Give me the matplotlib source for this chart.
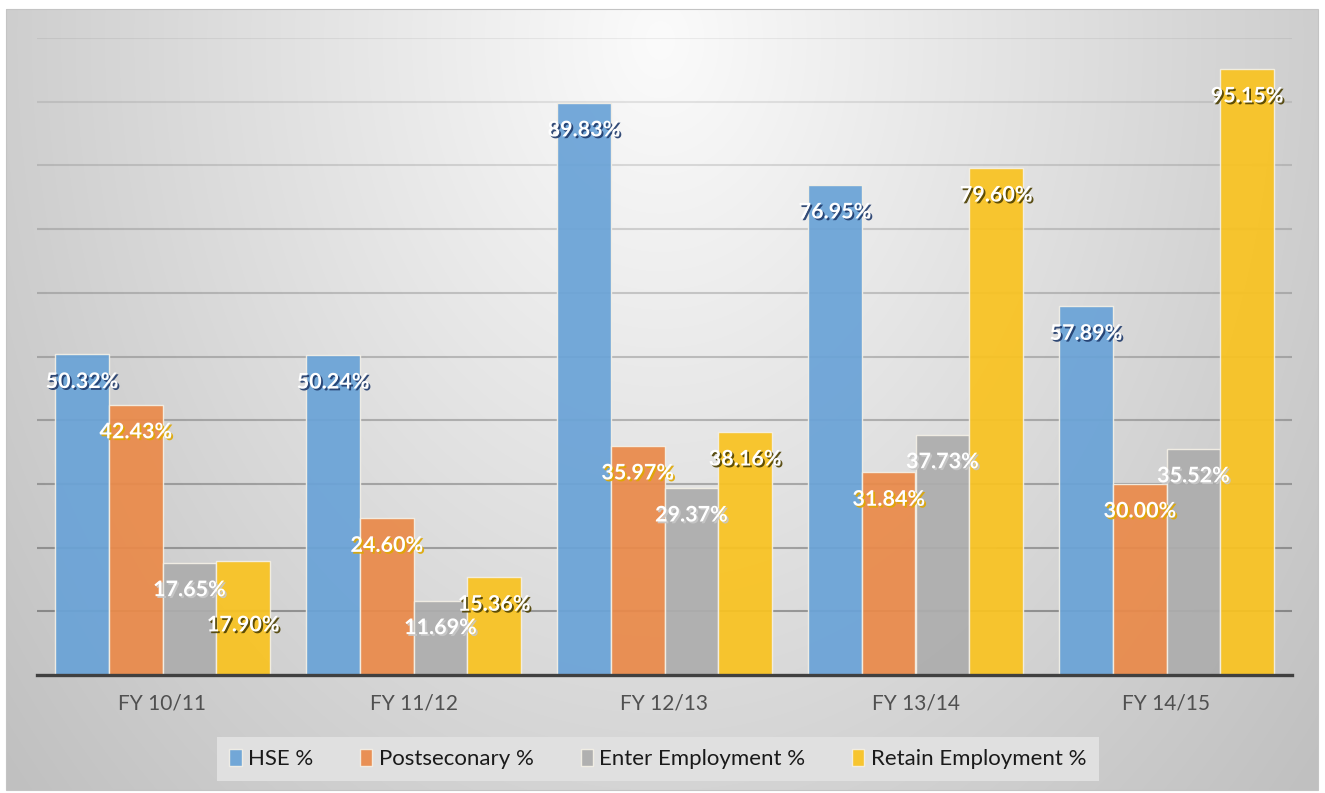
import numpy as np
import matplotlib
matplotlib.use("Agg")
import matplotlib.pyplot as plt
import matplotlib.patheffects as pe
from matplotlib.patches import Rectangle

# --- data ---
years = ["FY 10/11", "FY 11/12", "FY 12/13", "FY 13/14", "FY 14/15"]
series_names = ["HSE %", "Postseconary %", "Enter Employment %", "Retain Employment %"]
hse = [50.32, 50.24, 89.83, 76.95, 57.89]
postsec = [42.43, 24.60, 35.97, 31.84, 30.00]
enter_emp = [17.65, 11.69, 29.37, 37.73, 35.52]
retain_emp = [17.90, 15.36, 38.16, 79.60, 95.15]

colors = ["#6aa3d7", "#ea8a4a", "#adadad", "#f9c321"]
shadow_colors = ["#1f3a6b", "#e0a800", "#c8c8c8", "#4d4000"]
FONT = ["Lato", "DejaVu Sans"]

W, H = 1325, 793
fig = plt.figure(figsize=(W / 100, H / 100), dpi=100)
fig.patch.set_facecolor("white")

# background panel with a soft radial gradient
bg = fig.add_axes([0, 0, 1, 1])
bg.set_xlim(0, W)
bg.set_ylim(H, 0)
bg.axis("off")
x0, x1, y0, y1 = 6, 1318, 9, 790
gx, gy = np.meshgrid(np.arange(x0, x1), np.arange(y0, y1))
r = np.sqrt(((gx - 660) / 760.0) ** 2 + ((gy - 40) / 1000.0) ** 2)
shade = np.clip(251 - 52 * r, 192, 251) / 255.0
bg.imshow(np.dstack([shade, shade, shade]), extent=(x0, x1, y1, y0),
          aspect="auto", interpolation="bilinear")
bg.add_patch(Rectangle((x0, y0), x1 - x0, y1 - y0, fill=False,
                       edgecolor="#c4c4c4", linewidth=0.8))

ax = fig.add_axes([37 / W, 1 - 675 / H, 1255 / W, (675 - 38) / H])
ax.patch.set_alpha(0)
ax.set_xlim(-0.5, len(years) - 0.5)
ax.set_ylim(0, 100)

# gridlines get darker towards the bottom
for val in range(10, 101, 10):
    a = 0.06 + 0.28 * (1 - val / 100)
    ax.axhline(val, color="black", alpha=a, linewidth=1.5, zorder=1)

bar_w = 0.214
x = np.arange(len(years))
all_series = [hse, postsec, enter_emp, retain_emp]
# label drop below the bar top, in points
label_drop = {(3, 0): 46}

for i, (vals, col) in enumerate(zip(all_series, colors)):
    pos = x + (i - 1.5) * bar_w
    ax.bar(pos, vals, width=bar_w, color=col, alpha=0.93,
           edgecolor="#f4f0e6", linewidth=1.0, label=series_names[i], zorder=2)
    for j, (px, v) in enumerate(zip(pos, vals)):
        drop = label_drop.get((i, j), 19.5)
        ax.annotate(f"{v:.2f}%", (px, v), xytext=(0, -drop),
                    textcoords="offset points", ha="center", va="center",
                    color="white", fontsize=15.5, fontweight="bold",
                    family=FONT, zorder=5,
                    path_effects=[pe.withSimplePatchShadow(offset=(1.3, -1.3),
                                                          shadow_rgbFace=shadow_colors[i],
                                                          alpha=0.9)])

for s in ["top", "right", "left"]:
    ax.spines[s].set_visible(False)
ax.spines["bottom"].set_color("#404040")
ax.spines["bottom"].set_linewidth(2.4)
ax.spines["bottom"].set_zorder(4)
ax.set_yticks([])
ax.set_xticks(x)
ax.set_xticklabels(years, fontsize=15, color="#505050", family=FONT)
ax.tick_params(axis="x", length=0, pad=13)

leg = fig.legend(loc="center", bbox_to_anchor=(658 / W, 1 - 759 / H), ncol=4,
                 frameon=True, fancybox=False, handlelength=0.55, handleheight=0.8,
                 handletextpad=0.3, columnspacing=2.1, borderpad=0.55,
                 prop={"family": FONT, "size": 16})
leg.get_frame().set_facecolor("#e0e0e0")
leg.get_frame().set_edgecolor("none")
leg.get_frame().set_alpha(1)
for t in leg.get_texts():
    t.set_color("#1a1a1a")

fig.savefig("out.png", dpi=100)
